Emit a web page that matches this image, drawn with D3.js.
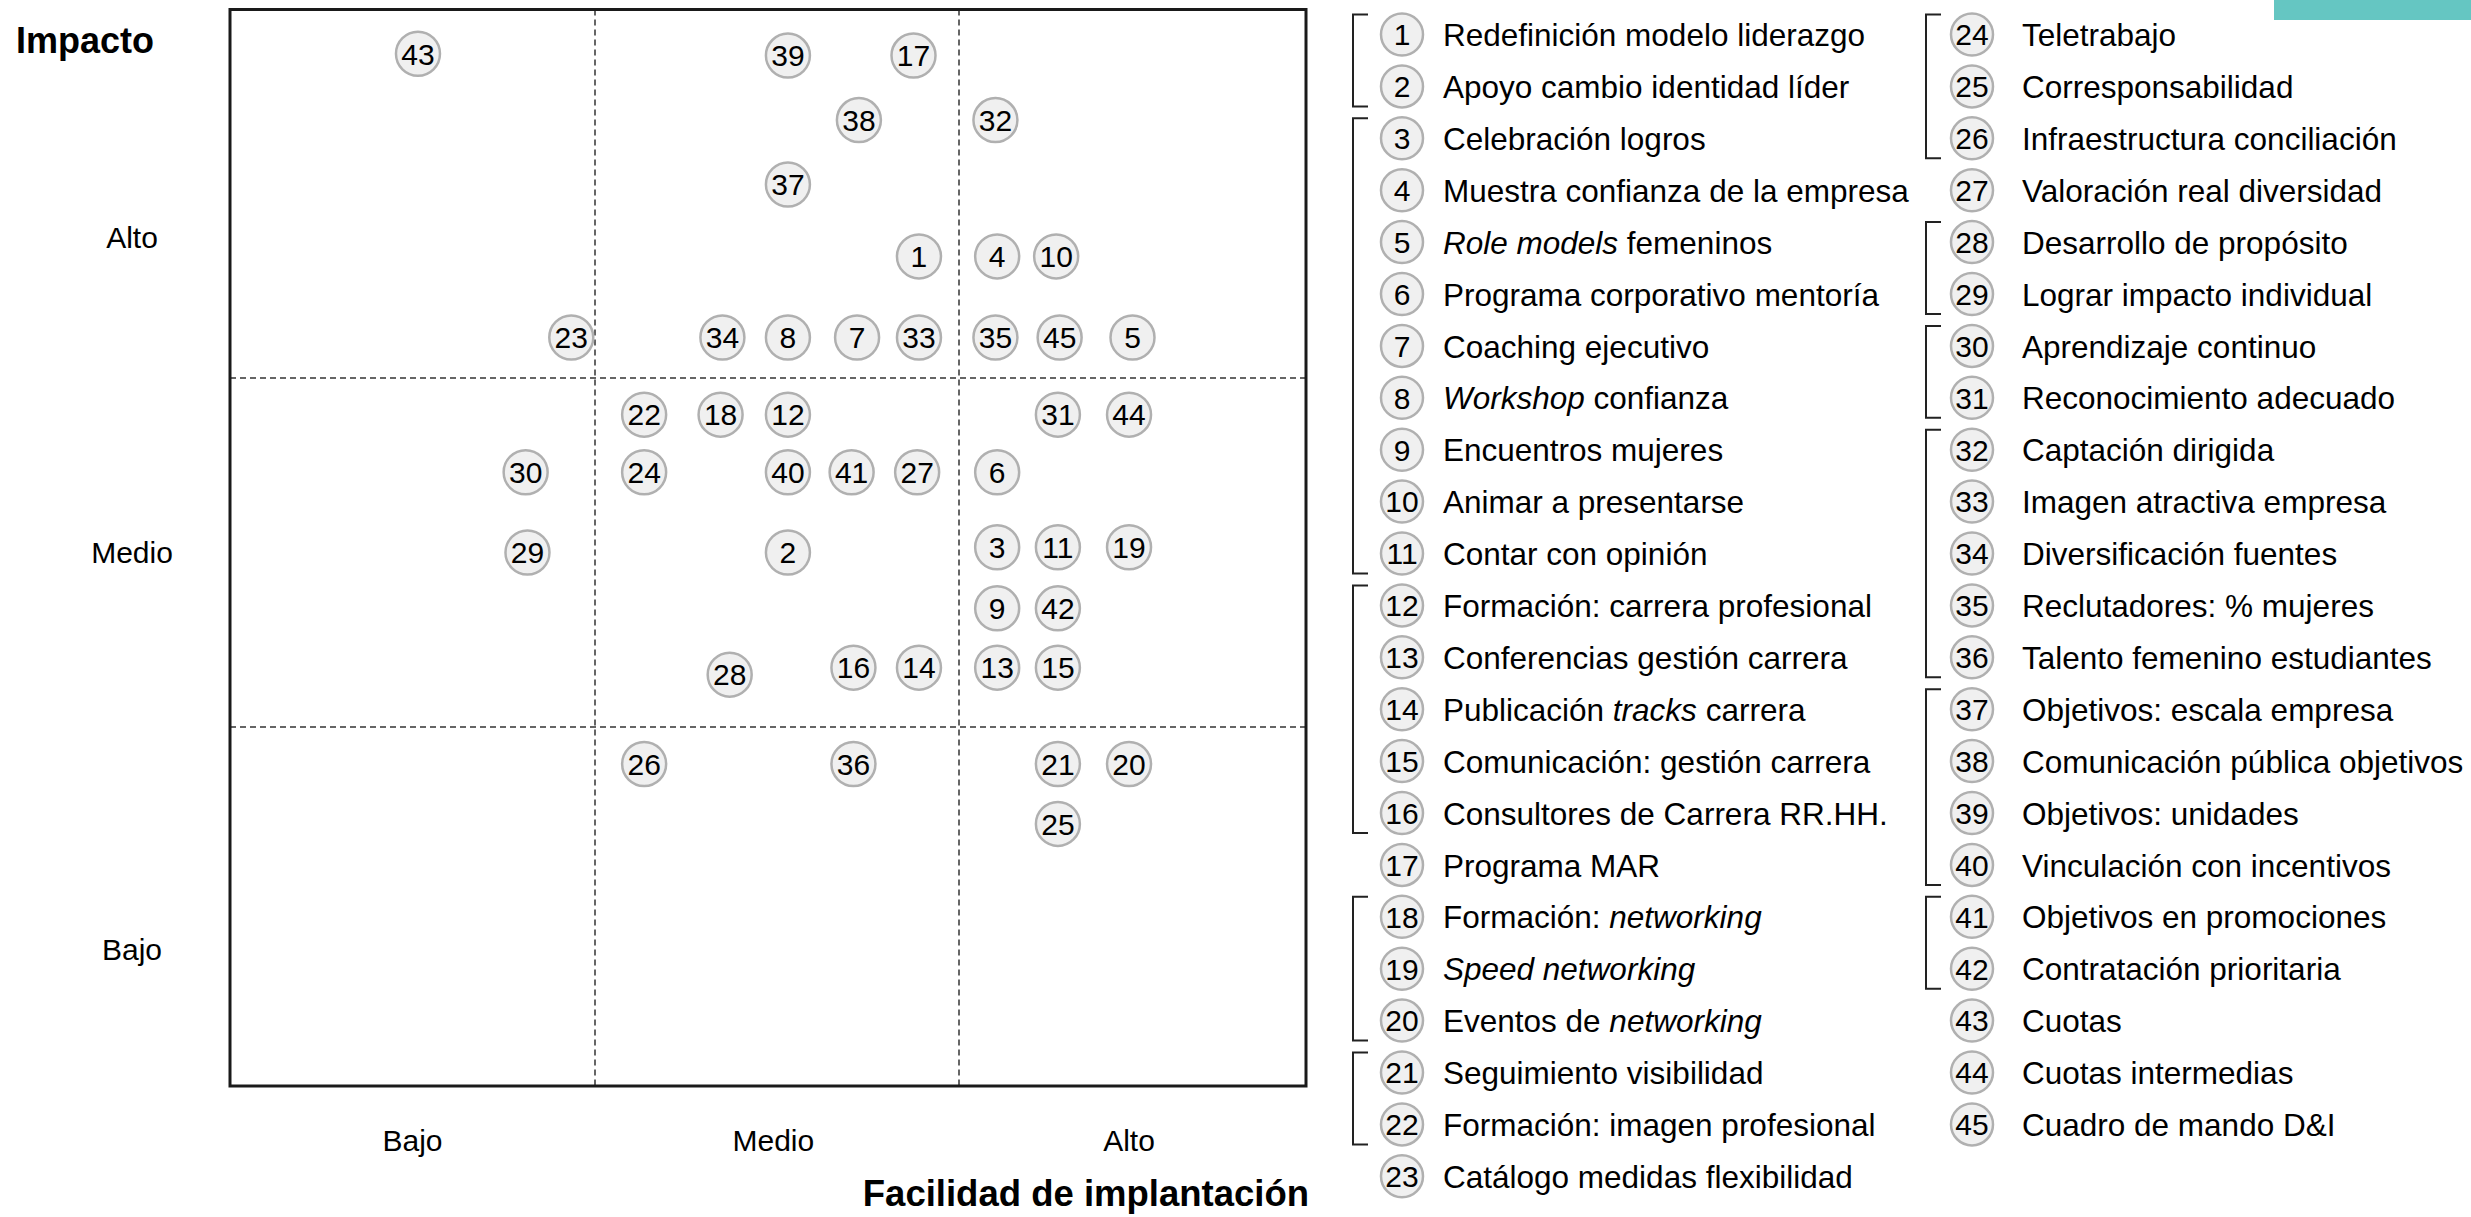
<!DOCTYPE html>
<html>
<head>
<meta charset="utf-8">
<script src="https://cdn.jsdelivr.net/npm/d3@7/dist/d3.min.js"></script>
<style>
  body { margin: 0; background: #fff; }
  text { font-family: "Liberation Sans", Arial, sans-serif; fill: #000; white-space: pre; }
</style>
</head>
<body>
<svg id="chart"></svg>
<script>
const width = 2471;
const height = 1217;

// número de medida, facilidad de implantación (x) e impacto (y), escala 0-3
const ids = d3.range(1, 46);
const facilidad = [1.89, 1.53, 2.11, 2.11, 2.50, 2.11, 1.72, 1.53, 2.11, 2.28,
  2.285, 1.53, 2.11, 1.89, 2.285, 1.71, 1.875, 1.345, 2.49, 2.49,
  2.285, 1.135, 0.935, 1.135, 2.285, 1.135, 1.885, 1.37, 0.815, 0.81,
  2.285, 2.105, 1.89, 1.35, 2.105, 1.71, 1.53, 1.725, 1.53, 1.53,
  1.705, 2.285, 0.515, 2.49, 2.29];
const impacto = [2.33, 1.50, 1.515, 2.33, 2.11, 1.73, 2.11, 2.11, 1.34, 2.33,
  1.515, 1.895, 1.17, 1.17, 1.17, 1.17, 2.875, 1.895, 1.515, 0.897,
  0.897, 1.895, 2.11, 1.73, 0.73, 0.897, 1.73, 1.15, 1.50, 1.73,
  1.895, 2.70, 2.11, 2.11, 2.11, 0.897, 2.525, 2.70, 2.875, 1.73,
  1.73, 1.34, 2.88, 1.895, 2.11];

// texto de la leyenda; *...* va en cursiva
const labels = [
  "Redefinición modelo liderazgo", "Apoyo cambio identidad líder", "Celebración logros",
  "Muestra confianza de la empresa", "*Role models* femeninos", "Programa corporativo mentoría",
  "Coaching ejecutivo", "*Workshop* confianza", "Encuentros mujeres", "Animar a presentarse",
  "Contar con opinión", "Formación: carrera profesional", "Conferencias gestión carrera",
  "Publicación *tracks* carrera", "Comunicación: gestión carrera", "Consultores de Carrera RR.HH.",
  "Programa MAR", "Formación: *networking*", "*Speed networking*", "Eventos de *networking*",
  "Seguimiento visibilidad", "Formación: imagen profesional", "Catálogo medidas flexibilidad",
  "Teletrabajo", "Corresponsabilidad", "Infraestructura conciliación", "Valoración real diversidad",
  "Desarrollo de propósito", "Lograr impacto individual", "Aprendizaje continuo",
  "Reconocimiento adecuado", "Captación dirigida", "Imagen atractiva empresa",
  "Diversificación fuentes", "Reclutadores: % mujeres", "Talento femenino estudiantes",
  "Objetivos: escala empresa", "Comunicación pública objetivos", "Objetivos: unidades",
  "Vinculación con incentivos", "Objetivos en promociones", "Contratación prioritaria",
  "Cuotas", "Cuotas intermedias", "Cuadro de mando D&I"
];

const levelNames = ["Bajo", "Medio", "Alto"];
const xLevelPos = [0.5, 1.49, 2.49];
const yLevelPos = [0.38, 1.5, 2.38];

// grupos de la leyenda (corchetes)
const groups = [[1, 2], [3, 11], [12, 16], [18, 20], [21, 22],
  [24, 26], [28, 29], [30, 31], [32, 36], [37, 40], [41, 42]];

const svg = d3.select("#chart")
  .attr("width", width)
  .attr("height", height);

const x = d3.scaleLinear().domain([0, 1, 2, 3]).range([230, 595, 959, 1306]);
const y = d3.scaleLinear().domain([0, 1, 2, 3]).range([1086, 727, 378, 9.5]);

// cinta de color arriba a la derecha
svg.append("rect")
  .attr("x", 2274).attr("y", 0)
  .attr("width", width - 2274).attr("height", 20)
  .attr("fill", "#65c6c2");

// líneas discontinuas que separan los niveles
svg.append("g").selectAll("line")
  .data([1, 2])
  .enter().append("line")
  .attr("x1", d => x(d)).attr("x2", d => x(d))
  .attr("y1", y(3)).attr("y2", y(0))
  .attr("stroke", "#333").attr("stroke-width", 1.5)
  .attr("stroke-dasharray", "6,4");

svg.append("g").selectAll("line")
  .data([1, 2])
  .enter().append("line")
  .attr("x1", x(0)).attr("x2", x(3))
  .attr("y1", d => y(d)).attr("y2", d => y(d))
  .attr("stroke", "#333").attr("stroke-width", 1.5)
  .attr("stroke-dasharray", "6,4");

// marco
svg.append("rect")
  .attr("x", x(0)).attr("y", y(3))
  .attr("width", x(3) - x(0)).attr("height", y(0) - y(3))
  .attr("fill", "none")
  .attr("stroke", "#1a1a1a")
  .attr("stroke-width", 3);

// etiquetas de nivel
svg.append("g").selectAll("text")
  .data(levelNames)
  .enter().append("text")
  .attr("x", (d, i) => x(xLevelPos[i]))
  .attr("y", 1140)
  .attr("dy", "0.35em")
  .attr("text-anchor", "middle")
  .attr("font-size", 30)
  .text(d => d);

svg.append("g").selectAll("text")
  .data(levelNames)
  .enter().append("text")
  .attr("x", 132)
  .attr("y", (d, i) => y(yLevelPos[i]))
  .attr("dy", "0.35em")
  .attr("text-anchor", "middle")
  .attr("font-size", 30)
  .text(d => d);

svg.append("text")
  .attr("x", 16).attr("y", 53)
  .attr("font-size", 36).attr("font-weight", "bold")
  .text("Impacto");

svg.append("text")
  .attr("x", 1309).attr("y", 1206)
  .attr("text-anchor", "end")
  .attr("font-size", 36.5).attr("font-weight", "bold")
  .text("Facilidad de implantación");

// puntos
const points = svg.append("g")
  .selectAll("g")
  .data(ids)
  .enter().append("g")
  .attr("transform", (d, i) => `translate(${x(facilidad[i])},${y(impacto[i])})`);

points.append("circle")
  .attr("r", 22)
  .attr("fill", "#f0f0f0")
  .attr("stroke", "#b0b0b0")
  .attr("stroke-width", 2.5);

points.append("text")
  .attr("text-anchor", "middle")
  .attr("dy", "0.36em")
  .attr("font-size", 30)
  .text(d => d);

// leyenda
const rowY = d3.scaleLinear().domain([0, 1]).range([34.5, 86.4]);
const colOf = d => (d <= 23 ? 0 : 1);
const rowOf = d => (d <= 23 ? d - 1 : d - 24);
const circleX = [1402, 1972];
const textX = [1443, 2022];
const bracketX = [1353, 1926];

const legend = svg.append("g")
  .selectAll("g")
  .data(ids)
  .enter().append("g")
  .attr("transform", d => `translate(0,${rowY(rowOf(d))})`);

legend.append("circle")
  .attr("cx", d => circleX[colOf(d)])
  .attr("r", 21)
  .attr("fill", "#f0f0f0")
  .attr("stroke", "#b0b0b0")
  .attr("stroke-width", 2.5);

legend.append("text")
  .attr("x", d => circleX[colOf(d)])
  .attr("text-anchor", "middle")
  .attr("dy", "0.36em")
  .attr("font-size", 30)
  .text(d => d);

legend.append("text")
  .attr("x", d => textX[colOf(d)])
  .attr("dy", "0.37em")
  .attr("font-size", 31.5)
  .each(function (d) {
    const parts = labels[d - 1].split("*");
    const t = d3.select(this);
    parts.forEach((p, k) => {
      if (p === "") return;
      t.append("tspan")
        .attr("font-style", k % 2 === 1 ? "italic" : "normal")
        .text(p);
    });
  });

// corchetes de grupo
svg.append("g").selectAll("path")
  .data(groups)
  .enter().append("path")
  .attr("d", g => {
    const c = colOf(g[0]);
    const bx = bracketX[c];
    const y0 = rowY(rowOf(g[0])) - 20;
    const y1 = rowY(rowOf(g[1])) + 20;
    return `M${bx + 15},${y0}H${bx}V${y1}H${bx + 15}`;
  })
  .attr("fill", "none")
  .attr("stroke", "#222")
  .attr("stroke-width", 2);
</script>
</body>
</html>
